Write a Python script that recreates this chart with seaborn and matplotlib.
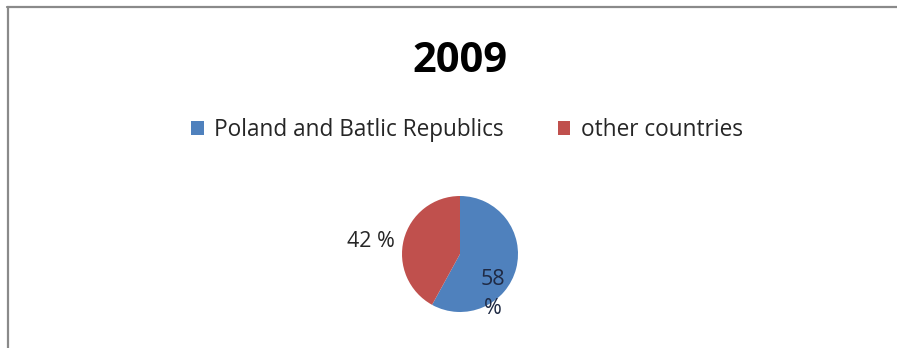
import matplotlib
matplotlib.use("Agg")
import matplotlib.pyplot as plt
import seaborn as sns
from matplotlib.lines import Line2D
from matplotlib.patches import Patch

title = "2009"
categories = ["Poland and Batlic Republics", "other countries"]
values = [58, 42]
value_labels = ["58\n%", "42 %"]
colors = ["#4F81BD", "#C0504D"]

sns.set_style("white")
plt.rcParams["font.family"] = ["Open Sans", "DejaVu Sans"]

W, H = 897, 348
fig = plt.figure(figsize=(W / 100, H / 100), dpi=100)
fig.patch.set_facecolor("white")

# pie axes
cx, cy, r = 460, 254, 58
ax = fig.add_axes([(cx - r) / W, (H - cy - r) / H, 2 * r / W, 2 * r / H])
wedges, _ = ax.pie(values, colors=colors, startangle=90, counterclock=False,
                   radius=1.0, wedgeprops=dict(linewidth=0))
ax.set_xlim(-1, 1)
ax.set_ylim(-1, 1)
ax.set_aspect("auto")
ax.axis("off")

# value labels
ax.text(0.57, -0.69, value_labels[0], ha="center", va="center", fontsize=15.5,
        color="#1F2A44", linespacing=1.5, clip_on=False)
ax.text(-1.54, 0.21, value_labels[1], ha="center", va="center", fontsize=15.5,
        color="#262626", clip_on=False)

# title
fig.text(cx / W, 1 - 62 / H, title, ha="center", va="center", fontsize=30,
         fontweight="bold", color="black")

# legend
handles = [Patch(facecolor=c, edgecolor="none") for c in colors]
fig.legend(handles, categories, loc="center", bbox_to_anchor=(467 / W, 1 - 130 / H),
           ncol=2, frameon=False, fontsize=16.3, handlelength=0.55, handleheight=0.55,
           handletextpad=0.45, columnspacing=2.4)

# border lines (top and left)
fig.add_artist(Line2D([7 / W, 1], [1 - 7 / H, 1 - 7 / H], color="#8a8a8a", lw=1.6))
fig.add_artist(Line2D([7.5 / W, 7.5 / W], [0, 1 - 7 / H], color="#8a8a8a", lw=1.6))

fig.savefig("out.png", dpi=100, facecolor="white")
